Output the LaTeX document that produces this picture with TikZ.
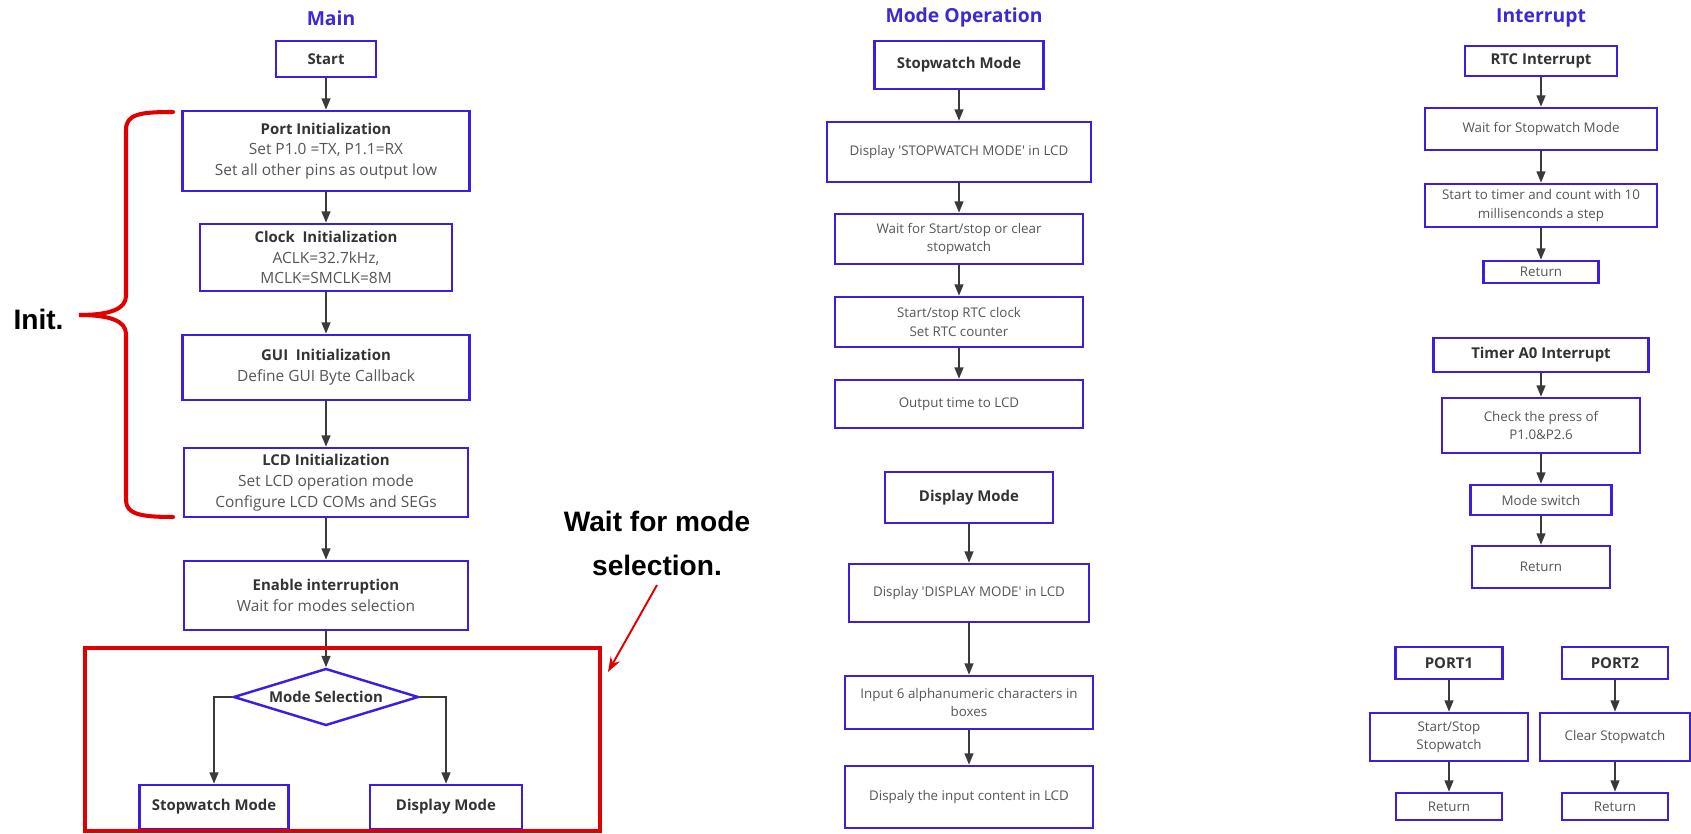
\documentclass[tikz,border=0pt]{standalone}
\usepackage{fontspec}
\setmainfont{Open Sans}
\newfontfamily\notefont{Liberation Sans}
\usepackage{tikz}
\usetikzlibrary{arrows.meta, positioning, shapes.geometric}

\definecolor{boxblue}{RGB}{58,30,226}
\definecolor{titleblue}{RGB}{60,40,215}
\definecolor{headgray}{RGB}{51,51,51}
\definecolor{bodygray}{RGB}{85,85,85}
\definecolor{flowgray}{RGB}{58,58,58}
\definecolor{markred}{RGB}{224,0,0}

\begin{document}
\begin{tikzpicture}[
    x=0.02cm, y=-0.02cm, % 以像素为单位
    >=Stealth,
    box/.style={draw=boxblue, line width=1.4pt, rectangle, align=center, inner sep=1pt,
                text=bodygray, font=\fontsize{8.8}{11.8}\selectfont}, % 流程框
    smalltxt/.style={font=\fontsize{7.6}{10.3}\selectfont}, % 小字
    sz/.style 2 args={minimum width=#1*0.02cm, minimum height=#2*0.02cm}, % 框尺寸
    decision/.style={box, diamond, aspect=3, inner sep=0pt}, % 判断框
    title/.style={text=titleblue, font=\fontsize{11}{13}\selectfont\bfseries}, % 标题
    flow/.style={draw=flowgray, line width=1.1pt, -{Triangle[length=6.5pt, width=5pt]}}, % 流程箭头
    note/.style={font=\notefont\fontsize{16}{25}\selectfont\bfseries, align=center}, % 标注文字
    redframe/.style={draw=markred, line width=2.8pt}, % 红色框
    initbrace/.style={draw=markred, line width=2.3pt, line cap=round}, % 红色大括号
    redarrow/.style={draw=markred, line width=1.1pt, -{Stealth[length=8.5pt, width=6pt]}} % 红色箭头
]
    \def\hd#1{{\fontsize{8.5}{11.8}\selectfont\bfseries\color{headgray}#1}}
    \useasboundingbox (0,0) rectangle (1691,834);

    % 1. 主程序
    \node[title] (tmain) at (331,18) {Main};
    \node[box, sz={100}{36}] (start) at (326,59) {\hd{Start}};
    \node[box, sz={287}{80}] (port) at (326,151) {\hd{Port Initialization}\\Set P1.0 =TX, P1.1=RX\\Set all other pins as output low};
    \node[box, sz={252}{67}] (clock) at (326,257.5) {\hd{Clock\ \ Initialization}\\ACLK=32.7kHz,\\MCLK=SMCLK=8M};
    \node[box, sz={287}{65}] (gui) at (326,367.5) {\hd{GUI\ \ Initialization}\\Define GUI Byte Callback};
    \node[box, sz={284}{69}] (lcd) at (326,482.5) {\hd{LCD Initialization}\\Set LCD operation mode\\Configure LCD COMs and SEGs};
    \node[box, sz={284}{69}] (enable) at (326,595.5) {\hd{Enable interruption}\\Wait for modes selection};
    \node[decision, sz={185}{57}] (modesel) at (326,697) {\hd{Mode Selection}};
    \node[box, sz={149}{44}] (swmode) at (214,807) {\hd{Stopwatch Mode}};
    \node[box, sz={152}{44}] (dpmode) at (446,807) {\hd{Display Mode}};

    \foreach \a/\b in {start/port, port/clock, clock/gui, gui/lcd, lcd/enable, enable/modesel}
        \draw[flow] (\a) -- (\b);
    \draw[flow] (modesel.west) -| (swmode.north);
    \draw[flow] (modesel.east) -| (dpmode.north);

    % 2. 标注:初始化大括号与模式选择框
    \draw[initbrace] (173,112) .. controls (140,112) and (126,114) .. (126,130) -- (126,296)
        .. controls (126,309) and (110,315) .. (79,315) .. controls (110,315) and (126,321) .. (126,334)
        -- (126,500) .. controls (126,514) and (140,517) .. (173,517);
    \node[note] (initlbl) at (38.5,319) {Init.};
    \draw[redframe] (85,648) rectangle (600,831);
    \node[note] (waitlbl) at (657,543) {Wait for mode\\selection.};
    \coordinate (frametip) at (608,672);
    \draw[redarrow] ([yshift=-2pt]waitlbl.south) -- (frametip);

    % 3. 模式操作
    \node[title] (tmode) at (964,17) {Mode Operation};
    \node[box, sz={169}{48}] (swhead) at (959,65) {\hd{Stopwatch Mode}};
    \node[box, smalltxt, sz={264}{60}] (swdisp) at (959,152) {Display \textquotesingle STOPWATCH MODE\textquotesingle{} in LCD};
    \node[box, smalltxt, sz={248}{50}] (swwait) at (959,239) {Wait for Start/stop or clear\\stopwatch};
    \node[box, smalltxt, sz={248}{50}] (swrtc) at (959,322) {Start/stop RTC clock\\Set RTC counter};
    \node[box, smalltxt, sz={248}{48}] (swout) at (959,404) {Output time to LCD};
    \node[box, sz={168}{51}] (dphead) at (969,497.5) {\hd{Display Mode}};
    \node[box, smalltxt, sz={240}{58}] (dpdisp) at (969,593) {Display \textquotesingle DISPLAY MODE\textquotesingle{} in LCD};
    \node[box, smalltxt, sz={248}{53}] (dpinput) at (969,702.5) {Input 6 alphanumeric characters in\\boxes};
    \node[box, smalltxt, sz={248}{62}] (dpshow) at (969,797) {Dispaly the input content in LCD};

    \foreach \a/\b in {swhead/swdisp, swdisp/swwait, swwait/swrtc, swrtc/swout,
                       dphead/dpdisp, dpdisp/dpinput, dpinput/dpshow}
        \draw[flow] (\a) -- (\b);

    % 4. 中断
    \node[title] (tint) at (1541,18) {Interrupt};
    \node[box, sz={152}{30}] (rtc) at (1541,61) {\hd{RTC Interrupt}};
    \node[box, smalltxt, sz={232}{42}] (rtcwait) at (1541,129) {Wait for Stopwatch Mode};
    \node[box, smalltxt, sz={232}{43}] (rtccount) at (1541,205.5) {Start to timer and count with 10\\millisenconds a step};
    \node[box, smalltxt, sz={115}{22}] (rtcret) at (1541,272) {Return};
    \node[box, sz={215}{34}] (tmr) at (1541,355) {\hd{Timer A0 Interrupt}};
    \node[box, smalltxt, sz={198}{55}] (tmrchk) at (1541,425.5) {Check the press of\\P1.0\&P2.6};
    \node[box, smalltxt, sz={141}{30}] (tmrsw) at (1541,500) {Mode switch};
    \node[box, smalltxt, sz={138}{42}] (tmrret) at (1541,567) {Return};
    \node[box, sz={107}{32}] (port1) at (1449,663) {\hd{PORT1}};
    \node[box, sz={106}{32}] (port2) at (1615,663) {\hd{PORT2}};
    \node[box, smalltxt, sz={158}{48}] (p1act) at (1449,737) {Start/Stop\\Stopwatch};
    \node[box, smalltxt, sz={150}{48}] (p2act) at (1615,737) {Clear Stopwatch};
    \node[box, smalltxt, sz={106}{27}] (p1ret) at (1449,806.5) {Return};
    \node[box, smalltxt, sz={106}{27}] (p2ret) at (1615,806.5) {Return};

    \foreach \a/\b in {rtc/rtcwait, rtcwait/rtccount, rtccount/rtcret,
                       tmr/tmrchk, tmrchk/tmrsw, tmrsw/tmrret,
                       port1/p1act, p1act/p1ret, port2/p2act, p2act/p2ret}
        \draw[flow] (\a) -- (\b);
\end{tikzpicture}
\end{document}
